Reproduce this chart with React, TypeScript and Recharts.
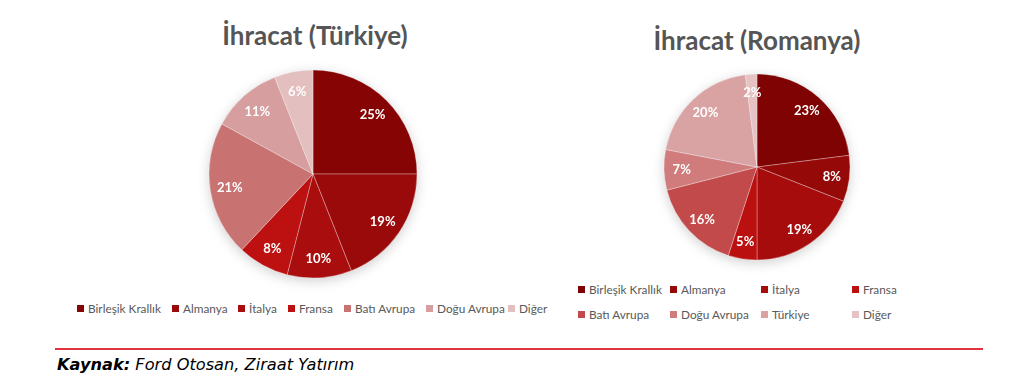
import { PieChart, Pie, Cell } from "recharts";

const TR_LABELS = [
  "Birleşik Krallık",
  "Almanya",
  "İtalya",
  "Fransa",
  "Batı Avrupa",
  "Doğu Avrupa",
  "Diğer",
];
const TR_VALUES = [25, 19, 10, 8, 21, 11, 6];
const TR_COLORS = [
  "#860404",
  "#9b0a0a",
  "#a90d0d",
  "#bd1010",
  "#c87272",
  "#d69e9e",
  "#e4bfbf",
];

const RO_LABELS = [
  "Birleşik Krallık",
  "Almanya",
  "İtalya",
  "Fransa",
  "Batı Avrupa",
  "Doğu Avrupa",
  "Türkiye",
  "Diğer",
];
const RO_VALUES = [23, 8, 19, 5, 16, 7, 20, 2];
const RO_COLORS = [
  "#800303",
  "#960909",
  "#a60c0c",
  "#bb1010",
  "#c24a4a",
  "#d07c7c",
  "#d9a3a3",
  "#e6c2c2",
];

const trData = TR_LABELS.map((name, i) => ({ name, value: TR_VALUES[i] }));
const roData = RO_LABELS.map((name, i) => ({ name, value: RO_VALUES[i] }));

const RADIAN = Math.PI / 180;

interface LabelProps {
  cx: number;
  cy: number;
  midAngle: number;
  outerRadius: number;
  value: number;
}

function PctLabel({ cx, cy, midAngle, outerRadius, value }: LabelProps) {
  const r = outerRadius * 0.81;
  const x = cx + r * Math.cos(-midAngle * RADIAN);
  const y = cy + r * Math.sin(-midAngle * RADIAN);
  return (
    <text
      x={x}
      y={y}
      fill="#ffffff"
      textAnchor="middle"
      dominantBaseline="central"
      fontFamily="Lato"
      fontWeight={700}
      fontSize={13}
    >
      {value}%
    </text>
  );
}

const titleStyle: React.CSSProperties = {
  position: "absolute",
  fontFamily: "Lato",
  fontWeight: 700,
  fontSize: 26,
  lineHeight: "30px",
  color: "#555555",
  whiteSpace: "nowrap",
  transform: "translateX(-50%)",
};

function LegendItem({
  x,
  y,
  color,
  label,
}: {
  x: number;
  y: number;
  color: string;
  label: string;
}) {
  return (
    <div
      style={{
        position: "absolute",
        left: x,
        top: y - 8,
        height: 16,
        display: "flex",
        alignItems: "center",
        fontFamily: "Lato",
        fontSize: 11.8,
        color: "#595959",
        whiteSpace: "nowrap",
      }}
    >
      <span
        style={{
          display: "inline-block",
          width: 7,
          height: 7,
          background: color,
          marginRight: 4,
        }}
      />
      {label}
    </div>
  );
}

const TR_LEGEND_X = [77, 172, 238, 288, 344, 426, 508];
const RO_LEGEND_X = [578, 670, 761, 852];

export default function App() {
  return (
    <div
      style={{
        position: "absolute",
        left: 0,
        top: 0,
        width: 1024,
        height: 386,
        background: "#ffffff",
        overflow: "hidden",
      }}
    >
      <div style={{ ...titleStyle, left: 315, top: 20 }}>İhracat (Türkiye)</div>
      <div style={{ ...titleStyle, left: 757, top: 25 }}>İhracat (Romanya)</div>

      <div
        style={{
          position: "absolute",
          left: 0,
          top: 0,
          filter: "drop-shadow(0px 3px 6px rgba(0,0,0,0.18))",
        }}
      >
        <PieChart
          width={1024}
          height={386}
          margin={{ top: 0, right: 0, bottom: 0, left: 0 }}
        >
          <Pie
            data={trData}
            dataKey="value"
            cx={313}
            cy={174}
            outerRadius={104}
            startAngle={90}
            endAngle={-270}
            stroke="rgba(255,255,255,0.3)"
            strokeWidth={1}
            label={PctLabel}
            labelLine={false}
            isAnimationActive={false}
          >
            {trData.map((_, i) => (
              <Cell key={i} fill={TR_COLORS[i]} />
            ))}
          </Pie>
          <Pie
            data={roData}
            dataKey="value"
            cx={757}
            cy={167}
            outerRadius={93}
            startAngle={90}
            endAngle={-270}
            stroke="rgba(255,255,255,0.3)"
            strokeWidth={1}
            label={PctLabel}
            labelLine={false}
            isAnimationActive={false}
          >
            {roData.map((_, i) => (
              <Cell key={i} fill={RO_COLORS[i]} />
            ))}
          </Pie>
        </PieChart>
      </div>

      {TR_LABELS.map((label, i) => (
        <LegendItem
          key={label}
          x={TR_LEGEND_X[i]}
          y={308}
          color={TR_COLORS[i]}
          label={label}
        />
      ))}
      {RO_LABELS.map((label, i) => (
        <LegendItem
          key={label}
          x={RO_LEGEND_X[i % 4]}
          y={i < 4 ? 289 : 314}
          color={RO_COLORS[i]}
          label={label}
        />
      ))}

      <div
        style={{
          position: "absolute",
          left: 55,
          top: 348,
          width: 928,
          height: 2,
          background: "#e0353f",
        }}
      />
      <div
        style={{
          position: "absolute",
          left: 57,
          top: 355,
          fontFamily: "DejaVu Sans",
          fontStyle: "italic",
          fontSize: 16.2,
          color: "#000000",
          whiteSpace: "nowrap",
        }}
      >
        <b>Kaynak:</b> Ford Otosan, Ziraat Yatırım
      </div>
    </div>
  );
}
